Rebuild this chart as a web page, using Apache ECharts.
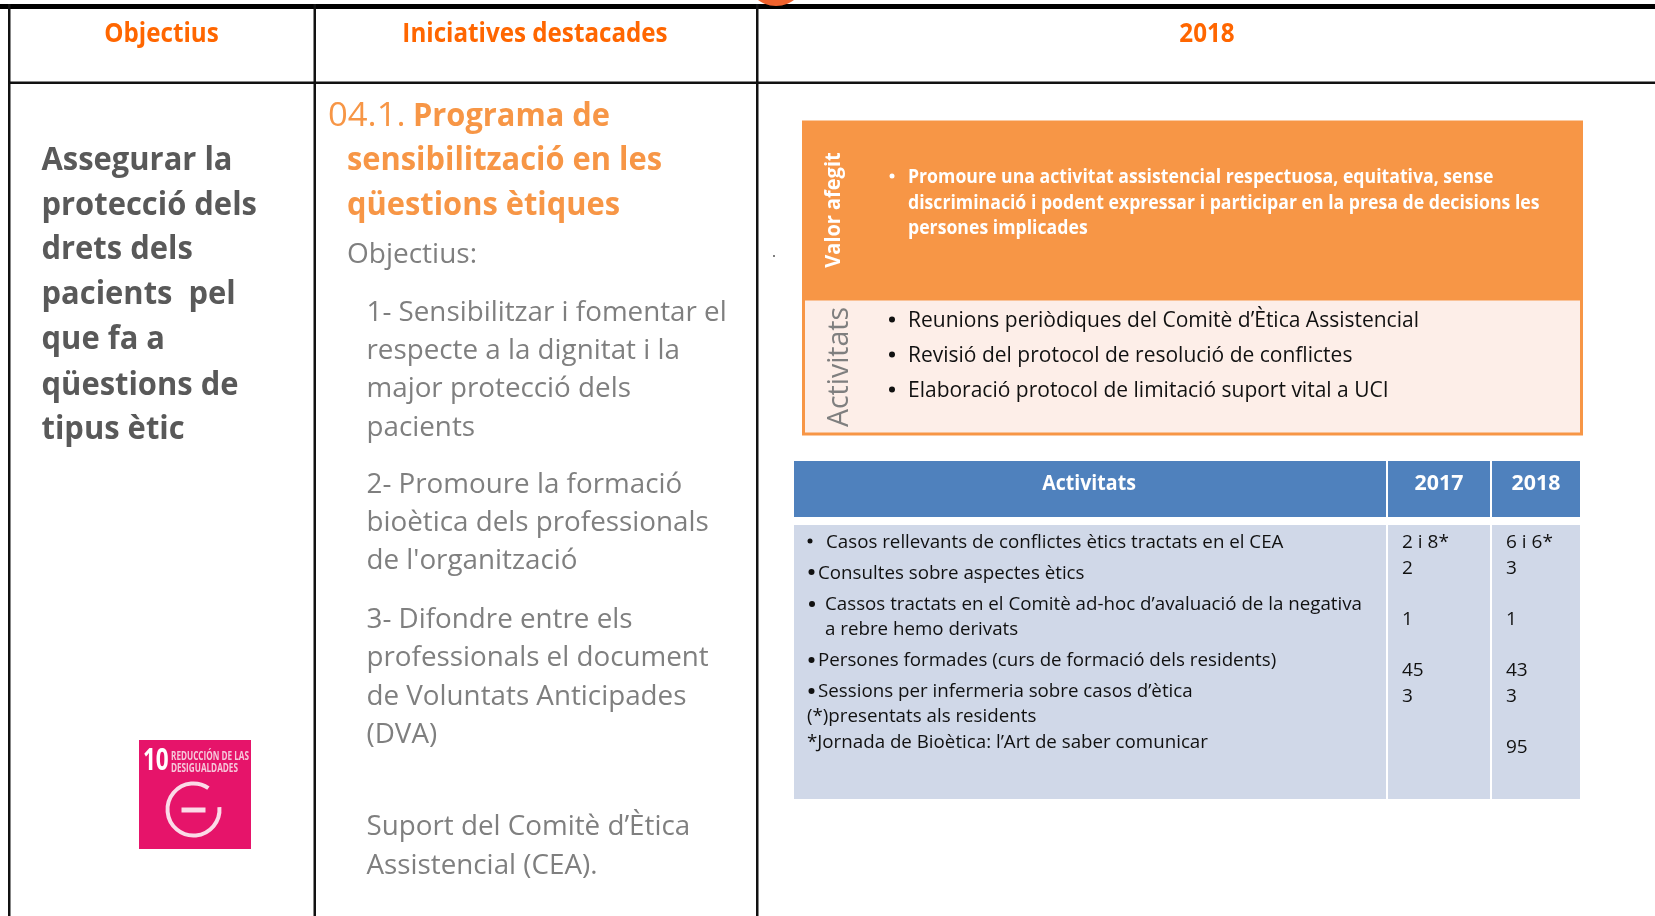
<!DOCTYPE html>
<html>
<head>
<meta charset="utf-8">
<style>html,body{margin:0;padding:0;background:#fff;overflow:hidden}#main{width:1655px;height:916px}</style>
<script src="https://cdn.jsdelivr.net/npm/echarts@6/dist/echarts.min.js"></script>
</head>
<body>
<div id="main"></div>
<script>
// text content of the slide
var headers = ['Objectius', 'Iniciatives destacades', '2018'];
var objectiveLines = ['Assegurar la', 'protecció dels', 'drets dels', 'pacients  pel', 'que fa a', 'qüestions de', 'tipus ètic'];
var programNumber = '04.1.';
var programTitle = ['Programa de', 'sensibilització en les', 'qüestions ètiques'];
var subHeading = 'Objectius:';
var goalLines = ['1- Sensibilitzar i fomentar el', 'respecte a la dignitat i la', 'major protecció dels', 'pacients',
    "2- Promoure la formació", 'bioètica dels professionals', "de l'organització",
    '3- Difondre entre els', 'professionals el document', 'de Voluntats Anticipades', '(DVA)',
    'Suport del Comitè d’Ètica', 'Assistencial (CEA).'];
var valueLabel = 'Valor afegit';
var valueLines = ['Promoure una activitat assistencial respectuosa, equitativa, sense', 'discriminació i podent expressar i participar en la presa de decisions les', 'persones implicades'];
var activityLabel = 'Activitats';
var activityLines = ['Reunions periòdiques del Comitè d’Ètica Assistencial', 'Revisió del protocol de resolució de conflictes', 'Elaboració protocol de limitació suport vital a UCI'];
var tableHeaders = ['Activitats', '2017', '2018'];
var tableLines = ['Casos rellevants de conflictes ètics tractats en el CEA', 'Consultes sobre aspectes ètics', 'Cassos tractats en el Comitè ad-hoc d’avaluació de la negativa', 'a rebre hemo derivats', 'Persones formades (curs de formació dels residents)', 'Sessions per infermeria sobre casos d’ètica', '(*)presentats als residents', '*Jornada de Bioètica: l’Art de saber comunicar'];
var values2017 = ['2 i 8*', '2', '1', '45', '3'];
var values2018 = ['6 i 6*', '3', '1', '43', '3', '95'];
var badgeLabel = ['10', 'REDUCCIÓN DE LAS', 'DESIGUALDADES'];

var FONT = '"Open Sans"';
var items = [];

function text(str, x, base, size, color, o) {
    o = o || {};
    items.push({
        type: 'text', x: x, y: base - size * 0.36 + 1.5, scaleX: o.sx || 1, z: 5,
        style: {
            text: str, x: 0, y: 0, fill: color, textAlign: o.align || 'left', textVerticalAlign: 'middle', textBaseline: 'middle',
            font: (o.bold ? 'bold ' : '') + size + 'px ' + FONT
        }
    });
}
function box(x, y, w, h, fill, o) {
    o = o || {};
    items.push({ type: 'rect', z: o.z || 2, shape: { x: x, y: y, width: w, height: h }, style: { fill: fill, stroke: o.stroke, lineWidth: o.lw || 0 } });
}
function vtext(str, x, y, size, color, bold, sx) {
    items.push({
        type: 'text', x: x, y: y, rotation: Math.PI / 2, scaleX: sx || 1, z: 5,
        style: { text: str, x: 0, y: 0, fill: color, textAlign: 'center', textVerticalAlign: 'middle', textBaseline: 'middle', font: (bold ? 'bold ' : '') + size + 'px ' + FONT }
    });
}
function dot(x, y, r, color) {
    items.push({ type: 'circle', z: 5, shape: { cx: x, cy: y, r: r }, style: { fill: color } });
}

// frame lines
box(0, 4, 1655, 5, '#000');
box(8, 4, 2.5, 912, '#111');
box(313.5, 4, 2.5, 912, '#111');
box(756, 4, 2.5, 912, '#111');
box(8, 81.5, 1647, 2.5, '#111');
items.push({ type: 'circle', z: 6, shape: { cx: 776, cy: -24, r: 30 }, style: { fill: '#f0622d' } });

// header row
var orange = '#ff6600';
var headerX = [161.5, 535, 1207];
headers.forEach(function (h, i) { text(h, headerX[i], 42.3, 26, orange, { bold: true, align: 'center', sx: 0.93 }); });

// left column
var objectiveBase = [170.8, 215.8, 259.8, 304.8, 349.8, 395.8, 439.8];
objectiveLines.forEach(function (s, i) { text(s, 41.5, objectiveBase[i], 32, '#595959', { bold: true, sx: 0.966 }); });

// badge
box(139, 740, 112, 109, '#e6146a');
text(badgeLabel[0], 143, 771, 30, '#fff', { bold: true, sx: 0.75 });
text(badgeLabel[1], 171, 759, 12, '#f6c7da', { bold: true, sx: 0.68 });
text(badgeLabel[2], 171, 771, 12, '#f6c7da', { bold: true, sx: 0.68 });
items.push({ type: 'arc', z: 5, shape: { cx: 193.5, cy: 809.5, r: 26, startAngle: -0.09, endAngle: -0.96, clockwise: true }, style: { stroke: '#fbdbe8', fill: null, lineWidth: 4 } });
box(181.5, 807.5, 24, 5, '#fbdbe8', { z: 5 });

// middle column
var pOrange = '#f79646';
var titleBase = [126.8, 170.8, 215.8];
text(programNumber, 328, titleBase[0], 33, pOrange, { sx: 1.05 });
text(programTitle[0], 413, titleBase[0], 32, pOrange, { bold: true, sx: 0.963 });
text(programTitle[1], 347, titleBase[1], 32, pOrange, { bold: true, sx: 0.963 });
text(programTitle[2], 347, titleBase[2], 32, pOrange, { bold: true, sx: 0.963 });
var grey2 = '#7f7f7f';
text(subHeading, 347, 263.8, 28, grey2);
var goalBase = [321.8, 359.8, 397.8, 436.8, 493.8, 531.8, 569.8, 628.8, 666.8, 705.8, 743.8, 835.8, 874.8];
goalLines.forEach(function (s, i) { text(s, 366.5, goalBase[i], 28, grey2, { sx: 0.992 }); });
dot(774, 256, 1, '#555');

// value box
box(802, 120.5, 781, 178.5, pOrange);
box(803.5, 299, 778, 135, '#fdeee8', { stroke: pOrange, lw: 3 });
vtext(valueLabel, 834, 210, 21, '#fff', true, 0.95);
vtext(activityLabel, 840, 367, 28.5, grey2, false);
var valueBase = [183, 208.8, 233.8];
valueLines.forEach(function (s, i) { text(s, 908, valueBase[i], 19, '#fff', { bold: true, sx: 0.93 }); });
dot(892, 176, 2.5, '#fff');
var activityBase = [327.5, 362.5, 397.5];
activityLines.forEach(function (s, i) {
    text(s, 908, activityBase[i], 21, '#111');
    dot(892, activityBase[i] - 8, 3, '#111');
});

// table
var colX = [794, 1388, 1492];
var colW = [592, 102, 88];
var tableX = [1089, 1439, 1536];
var headSx = [0.89, 0.97, 0.97];
for (var c = 0; c < 3; c++) {
    box(colX[c], 461, colW[c], 56, '#4f81bd');
    box(colX[c], 525, colW[c], 274, '#d0d8e8');
    text(tableHeaders[c], tableX[c], 490.5, 22, '#fff', { bold: true, align: 'center', sx: headSx[c] });
}
var lineX = [826, 818, 825, 825, 818, 818, 807, 807];
var lineBase = [548, 578.8, 610, 634.5, 666, 697, 722, 747.6];
tableLines.forEach(function (s, i) { text(s, lineX[i], lineBase[i], 19, '#111', { sx: 0.986 }); });
dot(810, 541, 2.5, '#111');
dot(812, 604, 3, '#111');
dot(811.5, 572, 3, '#111');
dot(811.5, 660, 3, '#111');
dot(811.5, 691, 3, '#111');
var base2017 = [548, 573.6, 625, 675.6, 702];
var base2018 = [548, 573.6, 625, 675.6, 702, 752.6];
values2017.forEach(function (s, i) { text(s, 1402, base2017[i], 19, '#111'); });
values2018.forEach(function (s, i) { text(s, 1506, base2018[i], 19, '#111'); });

var chart = echarts.init(document.getElementById('main'), null, { renderer: 'canvas' });
chart.setOption({ animation: false, backgroundColor: '#fff', graphic: { elements: items } });
</script>
</body>
</html>
